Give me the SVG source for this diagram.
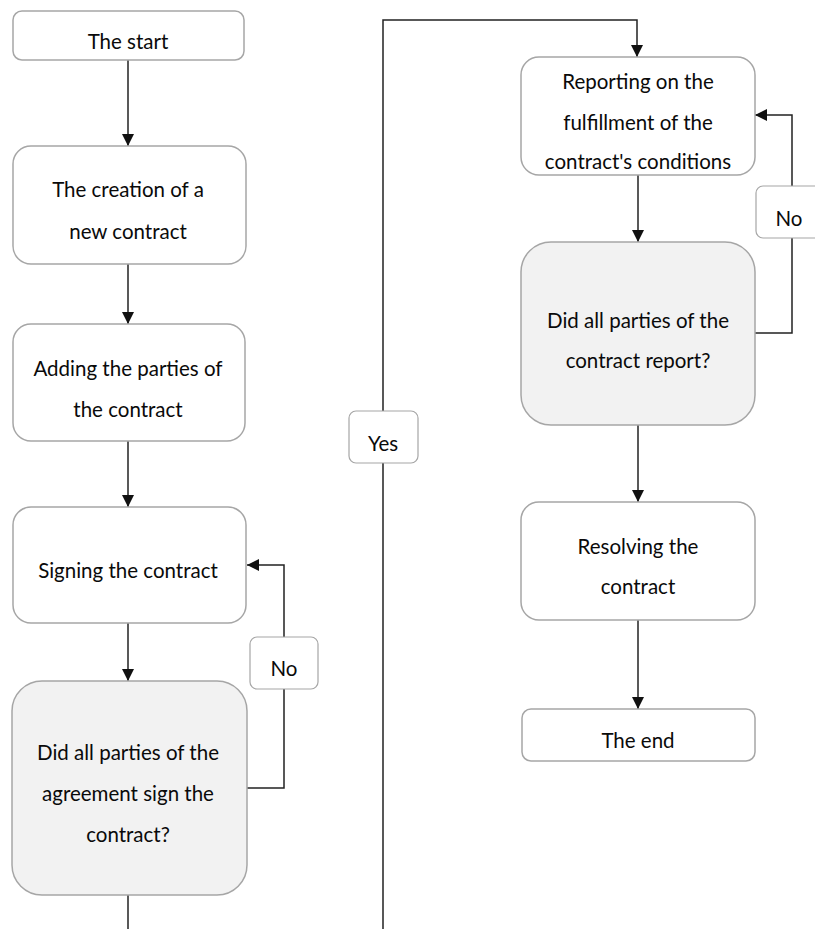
<svg xmlns="http://www.w3.org/2000/svg" width="815" height="929" viewBox="0 0 815 929">
  <style>
    .box { fill: #ffffff; stroke: #a6a6a6; stroke-width: 1.5; }
    .dec { fill: #f2f2f2; stroke: #a6a6a6; stroke-width: 1.5; }
    .lbl { fill: #ffffff; stroke: #a6a6a6; stroke-width: 1.2; }
    .txt { font-family: Lato, "Liberation Sans", sans-serif; font-size: 20.5px; fill: #0a0a0a; text-anchor: middle; dominant-baseline: central; }
    .wire { fill: none; stroke: #222222; stroke-width: 1.5; }
  </style>
  <defs>
    <marker id="arrow" viewBox="0 0 12 12" refX="12" refY="6" markerWidth="12" markerHeight="12" markerUnits="userSpaceOnUse" orient="auto">
      <path d="M0,0 L12,6 L0,12 Z" fill="#111111"/>
    </marker>
  </defs>
  <rect width="815" height="929" fill="#ffffff"/>

  <g id="connectors">
    <path class="wire" d="M128,60 V146" marker-end="url(#arrow)"/>
    <path class="wire" d="M128,264 V324" marker-end="url(#arrow)"/>
    <path class="wire" d="M128,441 V507" marker-end="url(#arrow)"/>
    <path class="wire" d="M128,623 V681" marker-end="url(#arrow)"/>
    <path class="wire" d="M247,788 H284 V565 H247" marker-end="url(#arrow)"/>
    <path class="wire" d="M128,895 V929"/>
    <path class="wire" d="M383,929 V20 H637 V57" marker-end="url(#arrow)"/>
    <path class="wire" d="M638,175 V242" marker-end="url(#arrow)"/>
    <path class="wire" d="M755,333 H792 V115 H755" marker-end="url(#arrow)"/>
    <path class="wire" d="M638,425 V502" marker-end="url(#arrow)"/>
    <path class="wire" d="M638,620 V709" marker-end="url(#arrow)"/>
  </g>

  <g id="start">
    <rect class="box" x="13" y="11" width="231" height="49" rx="9"/>
    <text class="txt" x="128" y="41">The start</text>
  </g>
  <g id="create">
    <rect class="box" x="13" y="146" width="233" height="118" rx="18"/>
    <text class="txt" x="128" y="189">The creation of a</text>
    <text class="txt" x="128" y="231">new contract</text>
  </g>
  <g id="parties">
    <rect class="box" x="13" y="324" width="232" height="117" rx="18"/>
    <text class="txt" x="128" y="368">Adding the parties of</text>
    <text class="txt" x="128" y="409">the contract</text>
  </g>
  <g id="signing">
    <rect class="box" x="13" y="507" width="233" height="116" rx="18"/>
    <text class="txt" x="128" y="570">Signing the contract</text>
  </g>
  <g id="signed-check">
    <rect class="dec" x="12" y="681" width="235" height="214" rx="30"/>
    <text class="txt" x="128" y="752">Did all parties of the</text>
    <text class="txt" x="128" y="793">agreement sign the</text>
    <text class="txt" x="128" y="834">contract?</text>
  </g>
  <g id="no-sign">
    <rect class="lbl" x="250" y="637" width="68" height="52" rx="7"/>
    <text class="txt" x="284" y="668">No</text>
  </g>
  <g id="yes">
    <rect class="lbl" x="349" y="411" width="69" height="52" rx="7"/>
    <text class="txt" x="383" y="443">Yes</text>
  </g>
  <g id="reporting">
    <rect class="box" x="521" y="57" width="234" height="118" rx="18"/>
    <text class="txt" x="638" y="81">Reporting on the</text>
    <text class="txt" x="638" y="122">fulfillment of the</text>
    <text class="txt" x="638" y="161">contract's conditions</text>
  </g>
  <g id="report-check">
    <rect class="dec" x="521" y="242" width="234" height="183" rx="30"/>
    <text class="txt" x="638" y="320">Did all parties of the</text>
    <text class="txt" x="638" y="360">contract report?</text>
  </g>
  <g id="no-report">
    <rect class="lbl" x="756" y="186" width="68" height="52" rx="7"/>
    <text class="txt" x="789" y="218">No</text>
  </g>
  <g id="resolving">
    <rect class="box" x="521" y="502" width="234" height="118" rx="18"/>
    <text class="txt" x="638" y="546">Resolving the</text>
    <text class="txt" x="638" y="586">contract</text>
  </g>
  <g id="end">
    <rect class="box" x="522" y="709" width="233" height="52" rx="9"/>
    <text class="txt" x="638" y="740">The end</text>
  </g>
</svg>
